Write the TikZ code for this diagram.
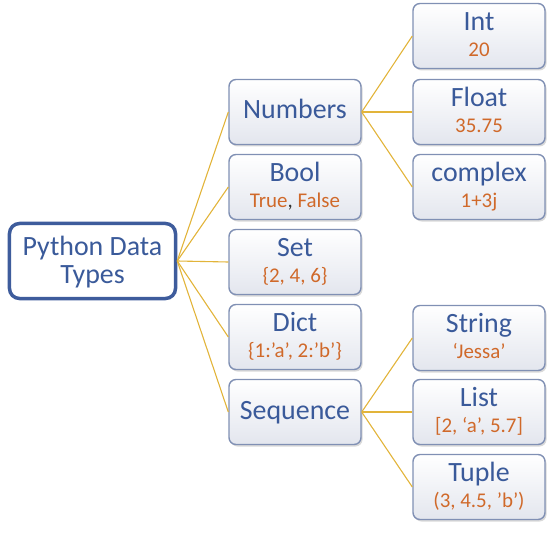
\documentclass[tikz,border=0pt]{standalone}
\usepackage{fontspec}
\setmainfont{Carlito}
\usetikzlibrary{shadows}
\definecolor{ttl}{HTML}{3A5A9A}
\definecolor{sub}{HTML}{D0692A}
\definecolor{edge}{HTML}{8090B4}
\definecolor{rootedge}{HTML}{3E5C9C}
\definecolor{conn}{HTML}{E2B43A}
\definecolor{boxbot}{HTML}{E3E6EE}
\tikzset{
  typebox/.style={draw=edge, line width=1.4bp, rounded corners=7bp,
    top color=white, bottom color=boxbot, minimum width=132bp, minimum height=65bp,
    inner sep=0pt, drop shadow={shadow xshift=1.5bp, shadow yshift=-2bp, opacity=0.25, fill=black!60}},
  rootbox/.style={draw=rootedge, line width=3.5bp, rounded corners=10bp, fill=white,
    minimum width=166bp, minimum height=75bp, inner sep=0pt},
  ttltext/.style={text=ttl, font=\fontsize{28}{30}\selectfont, anchor=base, inner sep=0pt},
  subtext/.style={text=sub, font=\fontsize{21}{23}\selectfont, anchor=base, inner sep=0pt},
  link/.style={draw=conn, line width=1.1bp}
}
\begin{document}
\begin{tikzpicture}[x=1bp,y=-1bp]
\useasboundingbox (0,0) rectangle (554,533);
% boxes
\node[rootbox] (root) at (92.5,261) {};
\node[typebox] (num) at (295,112) {};
\node[typebox] (bool) at (295,187) {};
\node[typebox] (set) at (295,262) {};
\node[typebox] (dict) at (295,337) {};
\node[typebox] (seq) at (295,412) {};
\node[typebox] (int) at (479,36) {};
\node[typebox] (flt) at (479,112) {};
\node[typebox] (cpx) at (479,187) {};
\node[typebox] (str) at (479,338) {};
\node[typebox] (lst) at (479,412) {};
\node[typebox] (tup) at (479,487) {};
% connectors
\foreach \b in {num,bool,set,dict,seq} \draw[link] (root.east) -- (\b.west);
\foreach \b in {int,flt,cpx} \draw[link] (num.east) -- (\b.west);
\foreach \b in {str,lst,tup} \draw[link] (seq.east) -- (\b.west);
% texts
\node[ttltext] (rootA) at ([yshift=6bp]root.center) {Python Data};
\node[ttltext] (rootB) at ([yshift=-22bp]root.center) {Types};
\node[ttltext] (numT) at ([yshift=-7bp]num.center) {Numbers};
\node[ttltext] (seqT) at ([yshift=-7bp]seq.center) {Sequence};
\node[ttltext] (boolT) at ([yshift=5.5bp]bool.center) {Bool};
\node[subtext] (boolS) at ([yshift=-20.5bp]bool.center) {True{\color{black!80},} False};
\node[ttltext] (setT) at ([yshift=5.5bp]set.center) {Set};
\node[subtext] (setS) at ([yshift=-20.5bp]set.center) {\{2, 4, 6\}};
\node[ttltext] (dictT) at ([yshift=5.5bp]dict.center) {Dict};
\node[subtext] (dictS) at ([yshift=-20.5bp]dict.center) {\{1:’a’, 2:’b’\}};
\node[ttltext] (intT) at ([yshift=5.5bp]int.center) {Int};
\node[subtext] (intS) at ([yshift=-20.5bp]int.center) {20};
\node[ttltext] (fltT) at ([yshift=5.5bp]flt.center) {Float};
\node[subtext] (fltS) at ([yshift=-20.5bp]flt.center) {35.75};
\node[ttltext] (cpxT) at ([yshift=5.5bp]cpx.center) {complex};
\node[subtext] (cpxS) at ([yshift=-20.5bp]cpx.center) {1+3j};
\node[ttltext] (strT) at ([yshift=5.5bp]str.center) {String};
\node[subtext] (strS) at ([yshift=-20.5bp]str.center) {‘Jessa’};
\node[ttltext] (lstT) at ([yshift=5.5bp]lst.center) {List};
\node[subtext] (lstS) at ([yshift=-20.5bp]lst.center) {[2, ‘a’, 5.7]};
\node[ttltext] (tupT) at ([yshift=5.5bp]tup.center) {Tuple};
\node[subtext] (tupS) at ([yshift=-20.5bp]tup.center) {(3, 4.5, ’b’)};
\end{tikzpicture}
\end{document}
